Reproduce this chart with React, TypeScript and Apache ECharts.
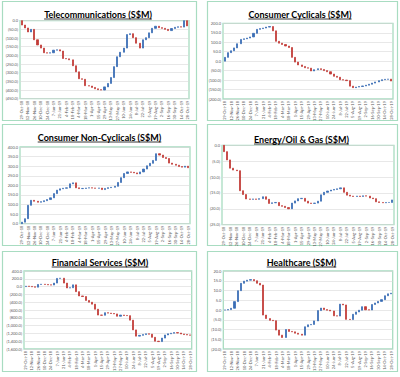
import React, { useEffect, useRef } from 'react';
import * as echarts from 'echarts';

const dates = [
  '29-Oct-18', '5-Nov-18', '12-Nov-18', '19-Nov-18', '26-Nov-18', '3-Dec-18', '10-Dec-18', '17-Dec-18', '24-Dec-18', '31-Dec-18',
  '7-Jan-19', '14-Jan-19', '21-Jan-19', '28-Jan-19', '4-Feb-19', '11-Feb-19', '18-Feb-19', '25-Feb-19', '4-Mar-19', '11-Mar-19',
  '18-Mar-19', '25-Mar-19', '1-Apr-19', '8-Apr-19', '15-Apr-19', '22-Apr-19', '29-Apr-19', '6-May-19', '13-May-19', '20-May-19',
  '27-May-19', '3-Jun-19', '10-Jun-19', '17-Jun-19', '24-Jun-19', '1-Jul-19', '8-Jul-19', '15-Jul-19', '22-Jul-19', '29-Jul-19',
  '5-Aug-19', '12-Aug-19', '19-Aug-19', '26-Aug-19', '2-Sep-19', '9-Sep-19', '16-Sep-19', '23-Sep-19', '30-Sep-19', '7-Oct-19',
  '14-Oct-19', '21-Oct-19', '28-Oct-19',
];

// cumulative net flow (S$M) at the end of each week
const telecom = [
  -25, -42, -65, -50, -110, -140, -158, -185, -187, -185, -170, -168, -175, -218, -220, -226, -260, -295, -335, -338,
  -375, -377, -385, -393, -398, -400, -382, -362, -328, -265, -208, -182, -158, -80, -75, -98, -130, -158, -110, -98,
  -70, -44, -32, -40, -44, -50, -57, -45, -38, -35, -37, 0, -30,
];
const consumerCyclicals = [
  20, 45, 55, 70, 92, 115, 118, 122, 128, 147, 168, 172, 175, 180, 183, 160, 105, 95, 88, 80,
  72, 20, -5, -20, -28, -35, -37, -52, -45, -40, -44, -50, -56, -68, -80, -85, -98, -100, -103, -132,
  -140, -137, -134, -131, -127, -122, -116, -110, -103, -98, -96, -95, -105,
];
const consumerNonCyclicals = [
  8, 26, 96, 122, 117, 112, 115, 120, 126, 135, 157, 175, 182, 185, 187, 208, 213, 187, 183, 184,
  186, 187, 186, 185, 186, 178, 184, 188, 190, 195, 215, 240, 262, 270, 268, 265, 260, 270, 285, 302,
  315, 330, 365, 358, 345, 340, 316, 310, 305, 298, 295, 300, 292,
];
const energy = [
  -2.0, -4.6, -7.2, -7.8, -8.0, -14.3, -15.5, -16.9, -17.0, -16.9, -17.0, -16.8, -16.2, -17.0, -18.3, -18.1, -18.0, -19.0, -19.2, -19.6,
  -20.0, -18.2, -17.5, -16.8, -16.7, -17.6, -18.2, -18.3, -18.2, -17.6, -15.6, -14.8, -14.4, -14.1, -13.9, -13.7, -13.4, -14.8, -15.7, -16.0,
  -16.1, -16.0, -16.1, -15.9, -16.0, -16.6, -16.8, -17.8, -18.0, -18.1, -18.0, -18.0, -17.2,
];
const financial = [
  10, 5, -5, -15, 55, 60, 55, 45, 40, 90, 210, 215, 90, -35, -30, 45, -130, -240, -255, -355,
  -400, -450, -580, -730, -735, -670, -680, -690, -700, -760, -730, -740, -745, -860, -1110, -1270, -1250, -1230, -1210, -1220,
  -1300, -1400, -1410, -1320, -1240, -1210, -1195, -1180, -1190, -1215, -1230, -1240, -1245,
];
const healthcare = [
  0, 0.2, 0.9, 4.3, 9.9, 13.7, 14.8, 15.3, 15.6, 15.0, 13.7, 12.8, -2.6, -4.4, -5.3, -5.5, -10.3, -12.9, -14.1, -10.0,
  -11.0, -11.2, -11.9, -12.4, -12.9, -8.6, -7.6, -7.4, -5.6, -0.3, 1.0, 0.2, -0.1, -0.5, -3.0, -3.1, 3.0, 2.6, -4.8, -4.9,
  -2.2, -1.0, -0.1, 1.7, 0.1, 0.0, 2.8, 3.6, 4.4, 5.3, 7.3, 8.3, 8.6,
];

const titles = [
  'Telecommunications (S$M)', 'Consumer Cyclicals (S$M)', 'Consumer Non-Cyclicals (S$M)',
  'Energy/Oil & Gas (S$M)', 'Financial Services (S$M)', 'Healthcare (S$M)',
];
const seriesData = [telecom, consumerCyclicals, consumerNonCyclicals, energy, financial, healthcare];
const yMins = [-450, -200, 0, -25, -1600, -20];
const yMaxs = [0, 200, 400, 0, 400, 20];
const yIntervals = [50, 50, 50, 5, 200, 5];

// layout (pixels)
const boxes = [
  [2, 1, 194, 119], [207, 1, 190, 119],
  [2, 124, 194, 121], [207, 124, 190, 121],
  [2, 251, 194, 120], [207, 251, 190, 120],
];
const grids = [
  { left: 20, top: 20.7, width: 169, height: 78 },
  { left: 223, top: 23.3, width: 170, height: 75.7 },
  { left: 20, top: 147, width: 170, height: 76.7 },
  { left: 222, top: 145.3, width: 172, height: 79.4 },
  { left: 24, top: 271, width: 167.7, height: 78 },
  { left: 223.3, top: 271, width: 169.4, height: 78 },
];
const titlePos = [
  [98, 14], [300, 14], [99.5, 137], [301.5, 139], [100, 262], [301.5, 262],
];

const BLUE = '#3a6db5';
const RED = '#c23b37';
const FRAME = '#a8dcc1';
const TITLE_FONT = 'bold 9px Lato';

const fmt = (v: number) => {
  const s = Math.abs(v).toLocaleString('en-US', { minimumFractionDigits: 1, maximumFractionDigits: 1 });
  return v < 0 ? `(${s})` : s;
};

export default function App() {
  const ref = useRef<HTMLDivElement>(null);
  useEffect(() => {
    document.body.style.margin = '0';
    if (!ref.current) return;
    const chart = echarts.init(ref.current, undefined, { renderer: 'svg' });
    const ctx = document.createElement('canvas').getContext('2d');
    const graphics: any[] = [];
    titles.forEach((t, i) => {
      const [bx, by, bw, bh] = boxes[i];
      graphics.push({
        type: 'rect', silent: true,
        shape: { x: bx + 0.5, y: by + 0.5, width: bw, height: bh },
        style: { fill: 'none', stroke: FRAME, lineWidth: 1.2 },
      });
      const [tx, ty] = titlePos[i];
      graphics.push({
        type: 'text', silent: true,
        style: { text: t, x: tx, y: ty, font: TITLE_FONT, fill: '#000', textAlign: 'center', textVerticalAlign: 'middle' },
      });
      let w = t.length * 4.4;
      if (ctx) { ctx.font = TITLE_FONT; w = ctx.measureText(t).width; }
      graphics.push({
        type: 'line', silent: true,
        shape: { x1: tx - w / 2, y1: ty + 5, x2: tx + w / 2, y2: ty + 5 },
        style: { stroke: '#000', lineWidth: 0.8 },
      });
    });

    const option: any = {
      animation: false,
      grid: grids.map((g) => ({ ...g, show: true, borderColor: FRAME, borderWidth: 1.3, backgroundColor: 'transparent' })),
      xAxis: grids.map((_, i) => ({
        type: 'category', gridIndex: i, data: dates,
        axisLine: { show: false, onZero: false }, axisTick: { show: false },
        axisLabel: { interval: 1, rotate: 90, fontSize: 4, color: '#595959', margin: 2, fontFamily: 'Lato' },
      })),
      yAxis: grids.map((_, i) => ({
        type: 'value', gridIndex: i, min: yMins[i], max: yMaxs[i], interval: yIntervals[i],
        axisLine: { show: false }, axisTick: { show: false },
        splitLine: { lineStyle: { color: '#d9d9d9', width: 0.6 } },
        axisLabel: { fontSize: 4, color: '#595959', margin: 2, fontFamily: 'Lato', formatter: fmt },
      })),
      series: seriesData.map((levels, i) => ({
        type: 'candlestick', xAxisIndex: i, yAxisIndex: i,
        barWidth: 1.6,
        itemStyle: { color: BLUE, color0: RED, borderColor: BLUE, borderColor0: RED, borderWidth: 0.8 },
        emphasis: { disabled: true },
        data: levels.map((c, k) => {
          const o = k === 0 ? 0 : levels[k - 1];
          return [o, c, Math.min(o, c), Math.max(o, c)];
        }),
      })),
      graphic: graphics,
    };
    chart.setOption(option);
    return () => chart.dispose();
  }, []);
  return <div ref={ref} style={{ width: 400, height: 377 }} />;
}
